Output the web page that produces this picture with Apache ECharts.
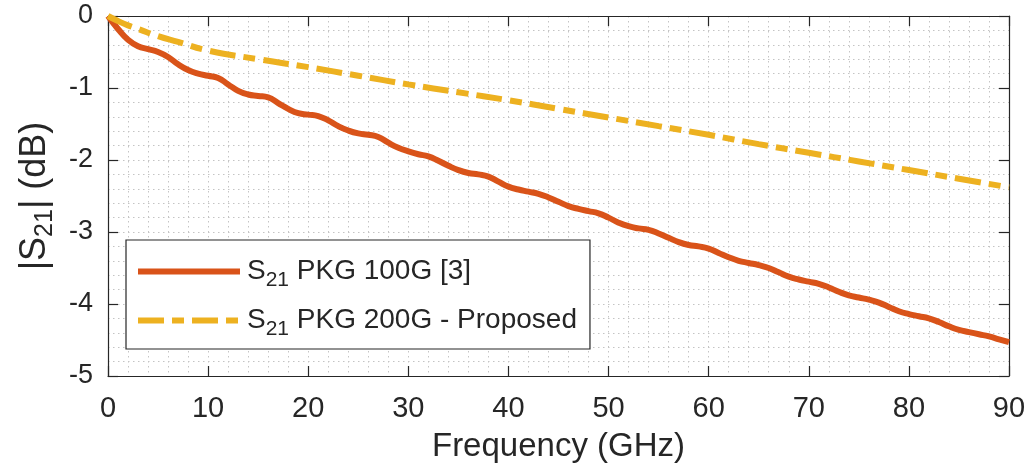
<!DOCTYPE html>
<html>
<head>
<meta charset="utf-8">
<script src="https://cdn.jsdelivr.net/npm/echarts@6/dist/echarts.min.js"></script>
<style>html,body{margin:0;padding:0;background:#fff}#c{width:1029px;height:476px}</style>
</head>
<body>
<div id="c"></div>
<script>
// Frequency (GHz) samples
const freq = [0,1,2,3,4,5,6,7,8,9,10,11,12,13,14,15,16,17,18,19,20,21,22,23,24,25,26,27,28,29,30,31,32,33,34,35,36,37,38,39,40,41,42,43,44,45,46,47,48,49,50,51,52,53,54,55,56,57,58,59,60,61,62,63,64,65,66,67,68,69,70,71,72,73,74,75,76,77,78,79,80,81,82,83,84,85,86,87,88,89,90];
// |S21| PKG 100G [3] (dB)
const s21Pkg100G = [0,-0.18,-0.33,-0.42,-0.46,-0.50,-0.57,-0.67,-0.75,-0.80,-0.83,-0.86,-0.95,-1.04,-1.09,-1.11,-1.13,-1.21,-1.29,-1.35,-1.37,-1.39,-1.45,-1.53,-1.59,-1.63,-1.65,-1.68,-1.76,-1.83,-1.88,-1.92,-1.95,-2.01,-2.08,-2.14,-2.18,-2.20,-2.23,-2.30,-2.37,-2.41,-2.44,-2.47,-2.52,-2.58,-2.64,-2.68,-2.71,-2.74,-2.80,-2.87,-2.92,-2.95,-2.97,-3.02,-3.08,-3.14,-3.18,-3.20,-3.23,-3.29,-3.35,-3.40,-3.43,-3.46,-3.50,-3.56,-3.62,-3.66,-3.69,-3.72,-3.77,-3.83,-3.88,-3.91,-3.94,-3.98,-4.04,-4.10,-4.14,-4.17,-4.20,-4.25,-4.31,-4.36,-4.39,-4.42,-4.45,-4.49,-4.53];
// |S21| PKG 200G - Proposed (dB)
const freq200 = [0,1,2,3,5,7,10,15,20,25,30,35,40,45,50,55,60,65,70,75,80,85,90];
const s21Pkg200G = [0,-0.07,-0.13,-0.18,-0.28,-0.36,-0.48,-0.60,-0.71,-0.83,-0.95,-1.06,-1.17,-1.29,-1.41,-1.53,-1.65,-1.78,-1.90,-2.02,-2.14,-2.26,-2.38];
const seriesNames = ['S21 PKG 100G [3]', 'S21 PKG 200G - Proposed'];
const legendRich = {
  'S21 PKG 100G [3]': '{a|S}{s|21}{a| PKG 100G [3]}',
  'S21 PKG 200G - Proposed': '{a|S}{s|21}{a| PKG 200G - Proposed}'
};

const FONT = 'Liberation Sans, Arial, sans-serif';
const TXT = '#262626';
const chart = echarts.init(document.getElementById('c'), null, {renderer: 'canvas'});

const gridDot = {type: [1.5, 3.5], color: '#c4c4c4', width: 1};
function xAx(pos, show) {
  return {
    type: 'value', position: pos, min: 0, max: 90, interval: 10,
    axisLine: {show: true, onZero: false, lineStyle: {color: TXT, width: 1.2}},
    axisTick: {show: true, inside: true, length: 10, lineStyle: {color: TXT, width: 1.2}},
    axisLabel: {show: show, color: TXT, fontSize: 29, fontFamily: FONT, margin: 18},
    splitLine: {show: show, lineStyle: gridDot},
    minorTick: {show: false, splitNumber: 5},
    minorSplitLine: {show: show, lineStyle: gridDot},
    name: show ? 'Frequency (GHz)' : '', nameLocation: 'middle', nameGap: 54,
    nameTextStyle: {color: TXT, fontSize: 33, fontFamily: FONT}
  };
}
function yAx(pos, show) {
  return {
    type: 'value', position: pos, min: -5, max: 0, interval: 1,
    axisLine: {show: true, onZero: false, lineStyle: {color: TXT, width: 1.2}},
    axisTick: {show: true, inside: true, length: 10, lineStyle: {color: TXT, width: 1.2}},
    axisLabel: {show: show, color: TXT, fontSize: 27, fontFamily: FONT, margin: 15},
    splitLine: {show: show, lineStyle: gridDot},
    minorTick: {show: false, splitNumber: 5},
    minorSplitLine: {show: show, lineStyle: gridDot},
    name: show ? '{a||S}{s|21}{a|| (dB)}' : '', nameLocation: 'middle', nameGap: 50, nameRotate: 90,
    nameTextStyle: {
      color: TXT, fontFamily: FONT,
      rich: {
        a: {fontSize: 36, fontFamily: FONT, color: TXT, lineHeight: 38},
        s: {fontSize: 25, fontFamily: FONT, color: TXT, lineHeight: 25, padding: [21, 0, 0, 0]}
      }
    }
  };
}

chart.setOption({
  animation: false,
  backgroundColor: '#fff',
  grid: {left: 108, right: 20, top: 16, bottom: 100, containLabel: false},
  xAxis: [xAx('bottom', true), xAx('top', false)],
  yAxis: [yAx('left', true), yAx('right', false)],
  legend: {
    orient: 'vertical', left: 126, top: 240,
    backgroundColor: '#fff', borderColor: TXT, borderWidth: 1.2, borderRadius: 0,
    padding: [12, 13, 9, 9], itemGap: 10, itemWidth: 102, itemHeight: 14,
    data: seriesNames,
    itemStyle: {opacity: 0},
    lineStyle: {width: 6},
    formatter: n => legendRich[n],
    textStyle: {
      color: TXT, fontFamily: FONT, padding: [0, 0, 0, 2],
      rich: {
        a: {fontSize: 28, fontFamily: FONT, color: TXT, lineHeight: 32},
        s: {fontSize: 21, fontFamily: FONT, color: TXT, lineHeight: 22, padding: [18, 0, 0, 0]}
      }
    }
  },
  series: [
    {
      name: seriesNames[0], type: 'line', symbol: 'none', showSymbol: false, smooth: true,
      data: freq.map((f, i) => [f, s21Pkg100G[i]]),
      lineStyle: {color: '#D95319', width: 6}, itemStyle: {color: '#D95319'}
    },
    {
      name: seriesNames[1], type: 'line', symbol: 'none', showSymbol: false, smooth: true,
      data: freq200.map((f, i) => [f, s21Pkg200G[i]]),
      lineStyle: {color: '#EDB120', width: 6, type: [26, 8, 12, 8]}, itemStyle: {color: '#EDB120'}
    }
  ]
});
</script>
</body>
</html>
